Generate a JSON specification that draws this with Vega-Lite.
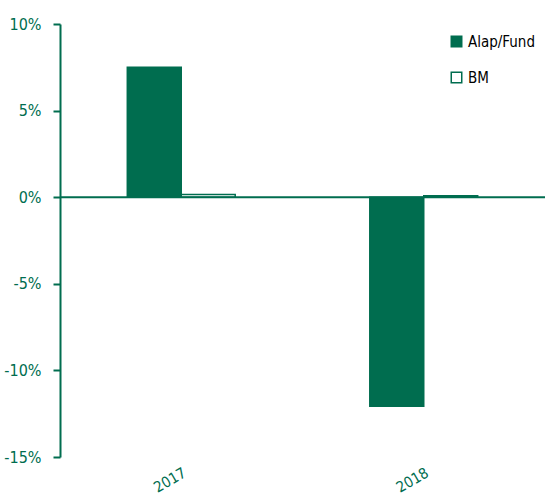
{
  "$schema": "https://vega.github.io/schema/vega-lite/v6.json",
  "width": 485,
  "height": 433,
  "autosize": {"type": "none"},
  "padding": {"left": 60, "top": 24, "right": 0, "bottom": 41},
  "config": {
    "view": {"stroke": null},
    "font": "DejaVu Sans Condensed"
  },
  "data": {
    "values": [
      {"year": "2017", "series": "Alap/Fund", "value": 0.075},
      {"year": "2017", "series": "BM", "value": 0.0015},
      {"year": "2018", "series": "Alap/Fund", "value": -0.1207},
      {"year": "2018", "series": "BM", "value": 0.0008}
    ]
  },
  "layer": [
    {
      "mark": {"type": "bar", "stroke": "#006D4F", "strokeWidth": 1.5},
      "encoding": {
        "x": {
          "field": "year",
          "type": "nominal",
          "scale": {"paddingInner": 0.11, "paddingOuter": 0.055},
          "axis": {
            "title": null,
            "domain": false,
            "ticks": false,
            "labelAngle": -30,
            "labelAlign": "right",
            "labelBaseline": "top",
            "labelPadding": 8,
            "labelColor": "#006D4F",
            "labelFontSize": 15
          }
        },
        "xOffset": {
          "field": "series",
          "type": "nominal",
          "scale": {"paddingInner": 0, "paddingOuter": 1}
        },
        "y": {
          "field": "value",
          "type": "quantitative",
          "scale": {"domain": [-0.15, 0.1], "nice": false},
          "axis": {
            "title": null,
            "values": [-0.15, -0.1, -0.05, 0, 0.05, 0.1],
            "format": ".0%",
            "labelExpr": "replace(datum.label, '\u2212', '-')",
            "grid": false,
            "domainColor": "#006D4F",
            "domainWidth": 2,
            "tickColor": "#006D4F",
            "tickWidth": 2,
            "tickSize": 7,
            "labelPadding": 12,
            "labelColor": "#006D4F",
            "labelFontSize": 16
          }
        },
        "fill": {
          "field": "series",
          "type": "nominal",
          "scale": {"domain": ["Alap/Fund", "BM"], "range": ["#006D4F", "#FFFFFF"]},
          "legend": {
            "title": null,
            "orient": "none",
            "legendX": 389,
            "legendY": 10,
            "symbolType": "square",
            "symbolSize": 110,
            "symbolStrokeColor": "#006D4F",
            "symbolStrokeWidth": 1.5,
            "labelFontSize": 15,
            "labelColor": "#000000",
            "rowPadding": 19,
            "labelOffset": 4
          }
        }
      }
    },
    {
      "mark": {"type": "rule", "color": "#006D4F", "strokeWidth": 2},
      "data": {"values": [{"z": 0}]},
      "encoding": {"y": {"field": "z", "type": "quantitative"}}
    }
  ]
}
